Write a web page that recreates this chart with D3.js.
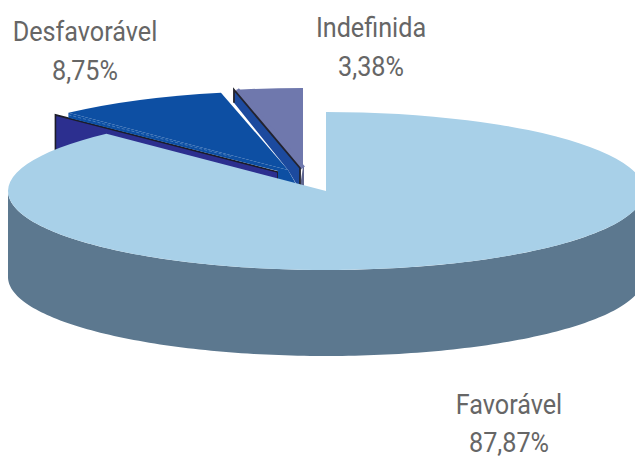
<!DOCTYPE html>
<html>
<head>
<meta charset="utf-8">
<script src="https://cdnjs.cloudflare.com/ajax/libs/d3/7.8.5/d3.min.js"></script>
<style>
  html, body { margin: 0; background: #fff; overflow: hidden; }
  svg { display: block; }
  text { font-family: "Roboto", sans-serif; font-size: 28px; fill: #666; text-anchor: middle; }
</style>
</head>
<body>
<div id="chart"></div>
<script>
const categories = ['Favorável', 'Desfavorável', 'Indefinida'];
const values = [87.87, 8.75, 3.38];
const valueLabels = ['87,87%', '8,75%', '3,38%'];

const WIDTH = 635, HEIGHT = 458;
const CX = 326, CY = 191, RX = 318, RY = 79, DEPTH = 86;

// how far each slice is pulled out of the pie, and where its label sits
const OFFSETS = [[0, 0], [-38, -21], [-23, -24]];
const LABELS = [[509, 414, 452], [85, 41, 80], [371, 37, 76]];
const TOPS = ['#a8d0e8', '#0d4fa3', '#6f78ad'];
const TEXT_SQUEEZE = 0.9; // the original face is a condensed one

const svg = d3.select('#chart').append('svg')
  .attr('width', WIDTH)
  .attr('height', HEIGHT);

const slices = d3.pie().sort(null)(values);
const arc = d3.arc().innerRadius(0).outerRadius(RX);

// angle is clockwise from 12 o'clock, like d3.pie
const px = (a, i) => CX + OFFSETS[i][0] + RX * Math.sin(a);
const py = (a, i) => CY + OFFSETS[i][1] - RY * Math.cos(a);

function topFace(i) {
  return svg.append('path')
    .attr('d', arc(slices[i]))
    .attr('transform', `translate(${CX + OFFSETS[i][0]}, ${CY + OFFSETS[i][1]}) scale(1, ${RY / RX})`)
    .attr('fill', TOPS[i]);
}

const line = d3.line();

// Indefinida
topFace(2);
const ind = slices[2];
const apexInd = [CX + OFFSETS[2][0], CY + OFFSETS[2][1]];
svg.append('path')
  .attr('d', line([apexInd, [apexInd[0] + 1, apexInd[1]], [apexInd[0] + 1, apexInd[1] + 20], [apexInd[0] - 3, apexInd[1] + 20]]))
  .attr('fill', '#5f6690');

// Desfavorável: left wall sits just under the top face
const des = slices[1];
const apexDes = [CX + OFFSETS[1][0], CY + OFFSETS[1][1]];
const startDes = [px(des.startAngle, 1), py(des.startAngle, 1)];
const wallTop = [
  [startDes[0] - 13, startDes[1] + 2],
  [apexDes[0] - 10, apexDes[1] + 2]
];
svg.append('path')
  .attr('d', line([wallTop[0], wallTop[1], [wallTop[1][0], wallTop[1][1] + DEPTH], [wallTop[0][0], wallTop[0][1] + DEPTH]]))
  .attr('fill', '#2c2f8f');
svg.append('path')
  .attr('d', line([[wallTop[0][0], wallTop[0][1] + DEPTH], wallTop[0], wallTop[1], [wallTop[1][0], wallTop[1][1] + DEPTH]]))
  .attr('fill', 'none')
  .attr('stroke', '#1c1c28')
  .attr('stroke-width', 1.6);

topFace(1);
// the face runs on down to the black line and the front corner
svg.append('path')
  .attr('d', line([
    startDes,
    [startDes[0], startDes[1] + 5],
    [wallTop[1][0], wallTop[1][1] - 1],
    [wallTop[1][0], wallTop[1][1] + 8],
    [apexInd[0] - 3, apexInd[1] + 24],
    apexDes
  ]))
  .attr('fill', TOPS[1]);
svg.append('path')
  .attr('d', line([[startDes[0], startDes[1] + 2], [233, 157]]))
  .attr('fill', 'none')
  .attr('stroke', '#6f9ccf')
  .attr('stroke-width', 0.8)
  .attr('stroke-opacity', 0.7)
  .attr('stroke-dasharray', '3 2');

// Desfavorável: right wall, seen past the Indefinida cut
const wallA = [px(ind.startAngle, 2) - 2, py(ind.startAngle, 2)];
const wallB = [apexInd[0] - 3, apexInd[1] + 1];
// closes the sliver between the black edge and the Indefinida face
svg.append('path')
  .attr('d', line([[wallA[0] + 3, wallA[1]], [wallB[0] + 3, wallB[1]]]))
  .attr('fill', 'none')
  .attr('stroke', TOPS[2])
  .attr('stroke-width', 5);
svg.append('path')
  .attr('d', line([wallA, wallB, [wallB[0], wallB[1] + 22], apexDes, [wallA[0], wallA[1] + 13]]))
  .attr('fill', '#1c4a9e');
svg.append('path')
  .attr('d', line([[wallA[0], wallA[1] + 13], wallA, wallB, [wallB[0], wallB[1] + 22]]))
  .attr('fill', 'none')
  .attr('stroke', '#23232e')
  .attr('stroke-width', 1.8);

// Favorável: outer side, only the front half of the rim shows
const rim = d3.range(Math.PI / 2, 3 * Math.PI / 2 + 0.01, 0.02);
svg.append('path')
  .attr('d', d3.area()
    .x(a => px(a, 0))
    .y0(a => py(a, 0))
    .y1(a => py(a, 0) + DEPTH)(rim))
  .attr('fill', '#5c788f');
topFace(0);

// labels
categories.forEach((c, i) => {
  [[c, LABELS[i][1]], [valueLabels[i], LABELS[i][2]]].forEach(([label, y]) => {
    svg.append('text')
      .attr('transform', `translate(${LABELS[i][0]}, ${y}) scale(${TEXT_SQUEEZE}, 1)`)
      .text(label);
  });
});
</script>
</body>
</html>
